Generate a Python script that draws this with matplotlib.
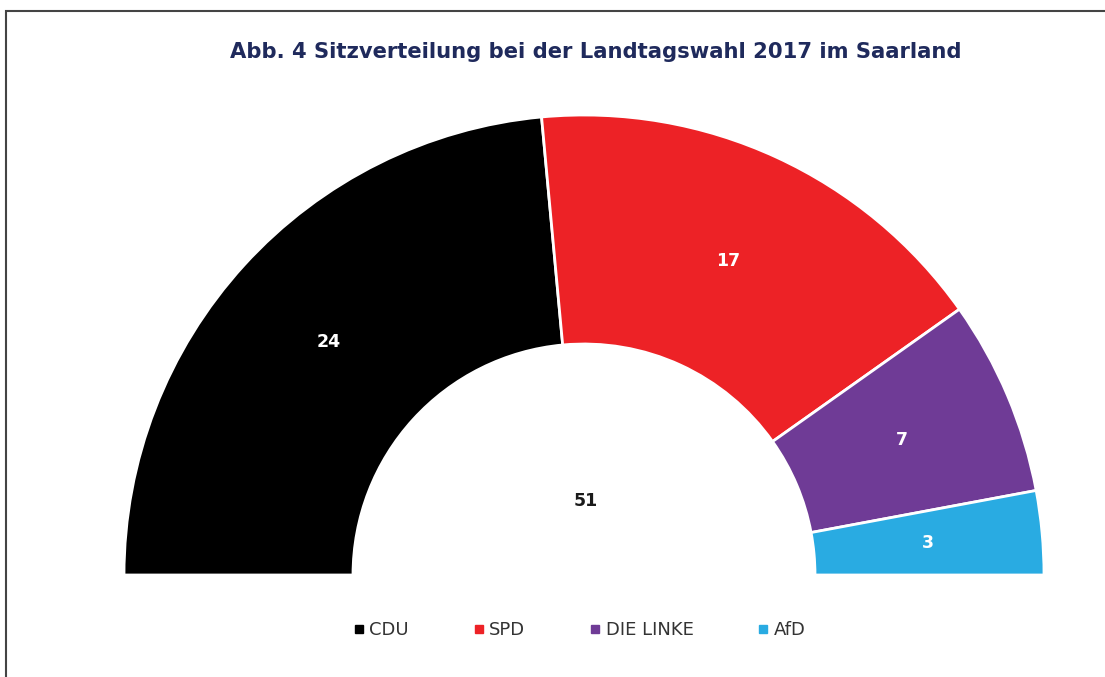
import matplotlib.pyplot as plt
from matplotlib.lines import Line2D
import numpy as np

# seats per party
parties = ['CDU', 'SPD', 'DIE LINKE', 'AfD']
seats = [24, 17, 7, 3]
colors = ['#000000', '#ED2226', '#6F3B96', '#29ABE2']
total = sum(seats)

W, H = 1105, 677
fig = plt.figure(figsize=(W / 100, H / 100), dpi=100)
ax = fig.add_axes([0, 0, 1, 1])

# half donut: add an invisible wedge for the bottom half
cx, cy = 584, H - 575
r_out, r_in = 460, 231
wedges, _ = ax.pie(seats + [total], colors=colors + ['none'], startangle=180,
                   counterclock=False, radius=r_out, center=(cx, cy), frame=True,
                   wedgeprops=dict(width=r_out - r_in, edgecolor='white', linewidth=2))
wedges[-1].set_visible(False)

ax.set_xlim(0, W)
ax.set_ylim(0, H)
ax.axis('off')

# value labels in the middle of each ring segment
r_mid = (r_out + r_in) / 2
for w, n in zip(wedges[:-1], seats):
    ang = np.deg2rad((w.theta1 + w.theta2) / 2)
    ax.text(cx + r_mid * np.cos(ang), cy + r_mid * np.sin(ang), str(n),
            ha='center', va='center', color='white', fontsize=12.5, fontweight='bold')

ax.text(cx + 2, H - 501, str(total), ha='center', va='center', color='#1a1a1a',
        fontsize=12.5, fontweight='bold')

fig.text(596 / W, 1 - 52 / H, 'Abb. 4 Sitzverteilung bei der Landtagswahl 2017 im Saarland',
         ha='center', va='center', color='#1F2A5C', fontsize=15.25, fontweight='bold')

# legend
handles = [Line2D([], [], ls='none', marker='s', markersize=6, color=c) for c in colors]
leg = ax.legend(handles, parties, loc='center', bbox_to_anchor=(580 / W, 1 - 630 / H),
                ncol=4, frameon=False, fontsize=13, handlelength=0.5, handletextpad=0.35,
                columnspacing=3.6, labelcolor='#333333')

# chart border (left and top visible)
border = plt.Rectangle((5.5 / W, -0.1), 1.2, 1 - 10.5 / H + 0.1, transform=fig.transFigure,
                       fill=False, edgecolor='#444444', linewidth=1.5)
fig.patches.append(border)

fig.savefig('out.png', dpi=100)
